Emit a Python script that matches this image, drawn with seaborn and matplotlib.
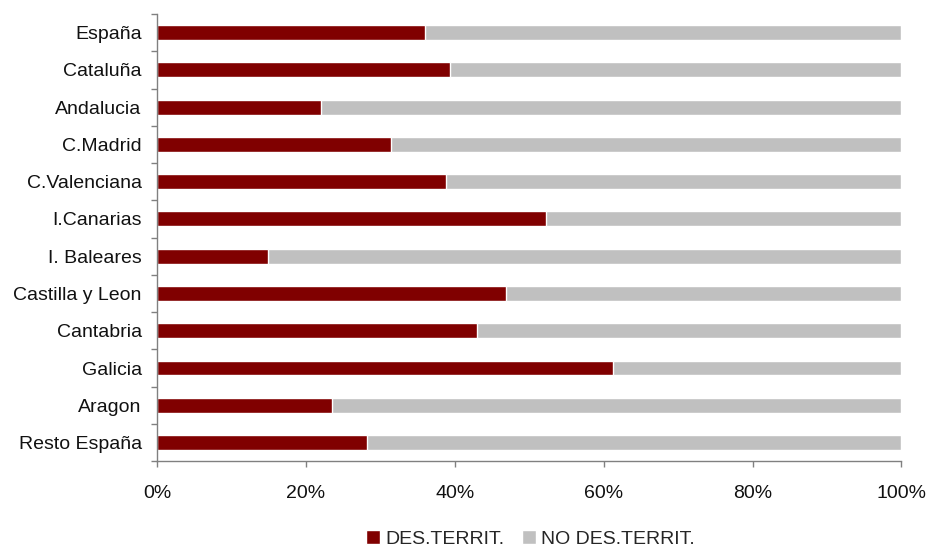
import matplotlib
matplotlib.use("Agg")
import matplotlib.pyplot as plt
from matplotlib.patches import Patch
from matplotlib.ticker import FuncFormatter, FixedLocator
import seaborn as sns
import pandas as pd

regiones = ["España", "Cataluña", "Andalucia", "C.Madrid", "C.Valenciana", "I.Canarias",
            "I. Baleares", "Castilla y Leon", "Cantabria", "Galicia", "Aragon", "Resto España"]
des_territ = [36.0, 39.3, 22.0, 31.5, 38.8, 52.3, 14.9, 46.9, 43.0, 61.3, 23.5, 28.2]
no_des_territ = [100 - v for v in des_territ]

red = "#800000"
gray = "#C0C0C0"

sns.set_theme(style="white")
plt.rcParams['font.family'] = ['Liberation Sans', 'DejaVu Sans']

df = pd.DataFrame({"region": regiones, "des": des_territ, "no_des": no_des_territ})
df["total"] = df["des"] + df["no_des"]

fig = plt.figure(figsize=(9.26, 5.49), dpi=100)
ax = fig.add_axes([0.1695, 0.160, 0.804, 0.8145])

sns.barplot(data=df, y="region", x="total", color=gray, width=0.4, orient="h",
            saturation=1, ax=ax)
sns.barplot(data=df, y="region", x="des", color=red, width=0.4, orient="h",
            saturation=1, ax=ax)

ax.set_xlim(0, 100)
ax.set_ylim(len(regiones) - 0.5, -0.5)
ax.set_xlabel("")
ax.set_ylabel("")
ax.xaxis.set_major_locator(FixedLocator([0, 20, 40, 60, 80, 100]))
ax.xaxis.set_major_formatter(FuncFormatter(lambda v, p: f"{int(v)}%"))

# category boundary ticks on y axis
ax.set_yticks(range(len(regiones)))
ax.set_yticklabels(regiones)
ax.yaxis.set_minor_locator(FixedLocator([i - 0.5 for i in range(len(regiones) + 1)]))
ax.tick_params(axis="y", which="major", length=0, pad=11, labelsize=14, labelcolor="#111111")
ax.tick_params(axis="y", which="minor", left=True, length=4, width=1, color="#808080")
ax.tick_params(axis="x", which="major", bottom=True, length=4, width=1, color="#808080",
               pad=13, labelsize=14, labelcolor="#111111")

sns.despine(ax=ax, top=True, right=True)
for s in ["left", "bottom"]:
    ax.spines[s].set_color("#808080")
    ax.spines[s].set_linewidth(1)
ax.grid(False)

handles = [Patch(facecolor=red, label="DES.TERRIT."),
           Patch(facecolor=gray, label="NO DES.TERRIT.")]
fig.legend(handles=handles, loc="lower center", bbox_to_anchor=(0.573, -0.03), ncol=2,
           frameon=False, handlelength=0.7, handleheight=0.7, handletextpad=0.3,
           columnspacing=0.9, fontsize=14)

fig.savefig("out.png", dpi=100)
